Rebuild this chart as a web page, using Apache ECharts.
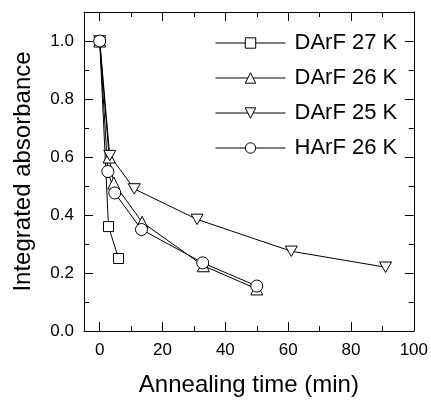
<!DOCTYPE html>
<html><head><meta charset="utf-8">
<script src="https://cdn.jsdelivr.net/npm/echarts@6/dist/echarts.min.js"></script>
<style>html,body{margin:0;padding:0;background:#fff}#c{width:431px;height:402px}</style>
</head><body><div id="c"></div>
<script>
var names = ['DArF 27 K', 'DArF 26 K', 'DArF 25 K', 'HArF 26 K'];
var x27 = [0, 2.8, 6];
var y27 = [1.0, 0.36, 0.25];
var x26 = [0, 3, 4.5, 13.5, 33, 50];
var y26 = [1.0, 0.60, 0.51, 0.375, 0.225, 0.145];
var x25 = [0, 3.2, 11, 31, 61, 91];
var y25 = [1.0, 0.605, 0.49, 0.385, 0.275, 0.22];
var xH = [0, 2.6, 4.8, 13.3, 32.8, 50];
var yH = [1.0, 0.55, 0.476, 0.35, 0.235, 0.155];
var xMajor = [0, 20, 40, 60, 80, 100];
var xMinor = [10, 30, 50, 70, 90];
var yMajor = [0, 0.2, 0.4, 0.6, 0.8, 1.0];
var yMinor = [0.1, 0.3, 0.5, 0.7, 0.9];

function pairs(xs, ys) { return xs.map(function (x, i) { return [x, ys[i]]; }); }
var FONT = '"Liberation Sans", Arial, sans-serif';
var symbols = ['rect', 'triangle', 'path://M0,0L2,0L1,1.732Z', 'circle'];
var sizes = [10, 12, 12, 12];
var datas = [pairs(x27, y27), pairs(x26, y26), pairs(x25, y25), pairs(xH, yH)];

function xAx(pos, vals, len, labels, line) {
  return {
    type: 'value', position: pos, min: -5, max: 100,
    splitLine: { show: false },
    axisLine: { show: line, onZero: false, lineStyle: { color: '#000', width: 1 } },
    axisTick: { show: true, inside: true, length: len, customValues: vals, lineStyle: { color: '#000', width: 1 } },
    axisLabel: { show: labels, customValues: vals, color: '#000', fontSize: 17, fontFamily: FONT, margin: 11 },
    name: labels ? 'Annealing time (min)' : '', nameLocation: 'middle', nameGap: 42,
    nameTextStyle: { fontSize: 24, color: '#000', fontFamily: FONT }
  };
}
function yAx(pos, vals, len, labels, line) {
  return {
    type: 'value', position: pos, min: 0, max: 1.1,
    splitLine: { show: false },
    axisLine: { show: line, onZero: false, lineStyle: { color: '#000', width: 1 } },
    axisTick: { show: true, inside: true, length: len, customValues: vals, lineStyle: { color: '#000', width: 1 } },
    axisLabel: { show: labels, customValues: vals, color: '#000', fontSize: 17, fontFamily: FONT, margin: 10,
      formatter: function (v) { return v.toFixed(1); } },
    name: labels ? 'Integrated absorbance' : '', nameLocation: 'middle', nameGap: 49,
    nameTextStyle: { fontSize: 24, color: '#000', fontFamily: FONT }
  };
}

var chart = echarts.init(document.getElementById('c'), null, { renderer: 'canvas' });
chart.setOption({
  animation: false,
  backgroundColor: '#fff',
  grid: { left: 84, right: 16, top: 12, bottom: 70, containLabel: false },
  xAxis: [
    xAx('bottom', xMajor, 9, true, true),
    xAx('bottom', xMinor, 5, false, false),
    xAx('top', xMajor, 9, false, true),
    xAx('top', xMinor, 5, false, false)
  ],
  yAxis: [
    yAx('left', yMajor, 9, true, true),
    yAx('left', yMinor, 5, false, false),
    yAx('right', yMajor, 9, false, true),
    yAx('right', yMinor, 5, false, false)
  ],
  legend: {
    orient: 'vertical', left: 215, top: 32, padding: 0,
    itemWidth: 70, itemHeight: 13, itemGap: 13,
    data: names,
    lineStyle: { width: 1, color: '#000' },
    itemStyle: { borderWidth: 1 },
    textStyle: { fontSize: 22, color: '#000', fontFamily: FONT, lineHeight: 22, padding: [0, 0, 0, 4] }
  },
  series: names.map(function (n, i) {
    return {
      name: n, type: 'line', data: datas[i],
      symbol: symbols[i], symbolSize: sizes[i], symbolKeepAspect: true,
      showAllSymbol: true,
      lineStyle: { color: '#000', width: 1 },
      itemStyle: { color: '#fff', borderColor: '#000', borderWidth: 1 },
      emphasis: { disabled: true }
    };
  })
});
</script></body></html>
